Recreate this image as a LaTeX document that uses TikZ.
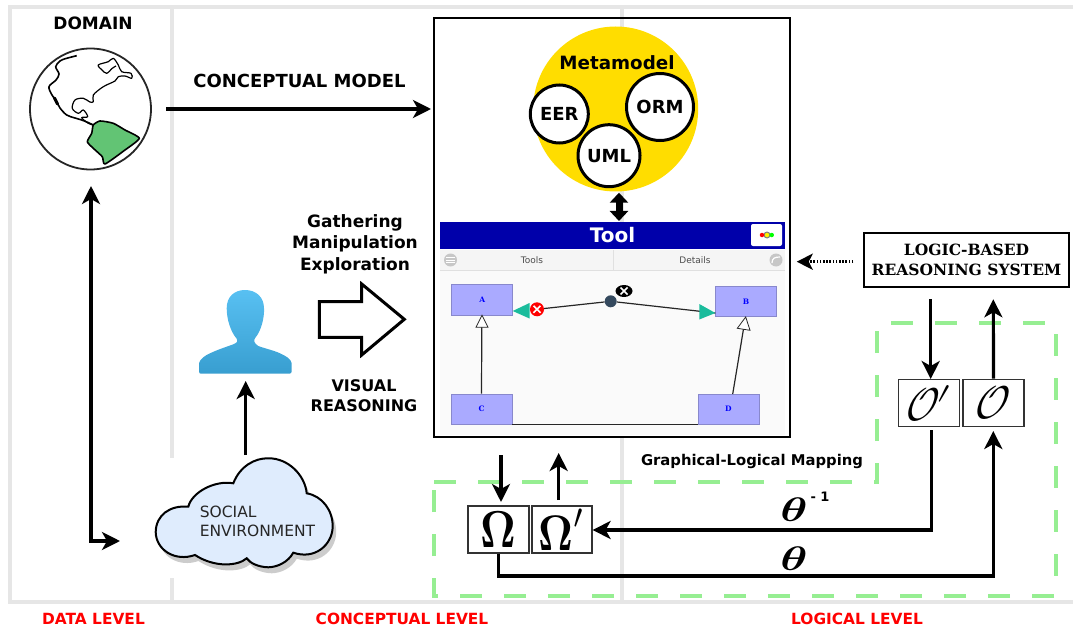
\documentclass[tikz,border=0pt]{standalone}
\usepackage{amsmath}
\usepackage[no-math]{fontspec}
\usepackage{graphicx}
\setmainfont{DejaVu Sans}
\newfontfamily\serifbold{DejaVu Serif}[BoldFont={* Bold}]
\usetikzlibrary{arrows.meta,shapes.geometric,calc}
\definecolor{frameg}{HTML}{E6E6E6}
\definecolor{dashg}{HTML}{96EE92}
\definecolor{metay}{HTML}{FFDD00}
\definecolor{toolb}{HTML}{0000AA}
\definecolor{umlbox}{HTML}{AAAAFF}
\definecolor{teal}{HTML}{1ABC9C}
\definecolor{hubc}{HTML}{34495E}
\definecolor{cloudc}{HTML}{DFECFD}
\definecolor{earth}{HTML}{62C474}
\tikzset{
 frame/.style={frameg,line width=4pt},
 arrowline/.style={line width=3.2pt,-{Stealth[length=18pt,width=18pt,inset=5pt]}},
 label17/.style={font=\fontsize{17}{20}\selectfont\bfseries,inner sep=0pt,align=center},
 levellabel/.style={font=\fontsize{15.4}{18}\selectfont\bfseries,text=red,inner sep=0pt},
 metac/.style={circle,draw=black,line width=3pt,fill=white,inner sep=0pt,font=\fontsize{18}{20}\selectfont\bfseries},
 umlnode/.style={draw=umlbox!80!black,line width=.6pt,fill=umlbox,minimum width=61pt,minimum height=30.5pt,inner sep=0pt,text=blue,font=\fontsize{7.5}{8}\selectfont\serifbold\bfseries},
 glyphbox/.style={draw=black!80,line width=1.2pt,fill=white,minimum width=61pt,minimum height=47pt,inner sep=0pt},
 glyph/.style={inner sep=0pt,xslant=.25,transform shape},
 umlline/.style={line width=1.2pt,black!85},
}
\begin{document}
\begin{tikzpicture}[x=1pt,y=-1pt]
\useasboundingbox (0,0) rectangle (1073,631);
% level frame
\draw[frame] (1073,7.5) -- (9.5,7.5) -- (9.5,602) -- (1073,602);
\draw[frame] (172,7.5) -- (172,458);
\draw[frame] (172,578) -- (172,602);
\draw[frame] (622,7.5) -- (622,602);
% dashed mapping region
\draw[dashg,line width=4pt,dash pattern=on 22pt off 22pt] (434,482) -- (877,482) -- (877,323) -- (1056,323) -- (1056,596) -- (434,596) -- cycle;
% globe
\node[circle,draw=black!85,line width=1.8pt,fill=white,minimum size=121pt,inner sep=0pt] (globe) at (90.5,109) {};
\draw[black,line width=1.6pt,line join=round] plot[smooth,tension=.55] coordinates {
 (76.7,55.7) (66,58.5) (60,61) (55.7,66.7) (59,74) (56,80) (49,86.7) (52,95) (56.7,101.7) (60,108) (66.7,115) (75,118) (81.7,120) (88,122.5) (93.3,125)};
\draw[black,line width=3pt,line cap=round] (54.5,98) -- (57.5,104);
\draw[black,line width=1.2pt,line join=round] plot[smooth,tension=.55] coordinates {
 (93.3,125) (88.3,123.3) (81.7,117.7) (87.7,116.7) (83.3,110) (78.3,113.3) (72.3,108.3) (75,100) (83.3,98.3) (90,102) (93.3,101.7) (93.3,95) (103.3,86.7) (115,81) (118.3,76.7) (125,76) (131.7,78.3) (131,73.3) (121.7,71.7) (118.3,65) (113.3,58.3) (108.3,61.7) (98.3,65) (102,70) (106.7,73.3) (112.3,68.3) (116,66)};
\draw[black,line width=1.6pt,fill=earth,line join=round] plot[smooth cycle,tension=.35] coordinates {
 (93.3,125) (100,121) (113.3,123.3) (125,130) (139.3,138.3) (125,150) (105,164) (102.3,156.7) (93.3,148.3) (87.3,141.7) (91.7,133.3)};
\node[label17] (domain) at (93,23) {DOMAIN};
\node[label17,font=\fontsize{18}{20}\selectfont\bfseries] (concept) at (299.5,81) {CONCEPTUAL MODEL};
\node[label17] (gather) at (355,244) {Gathering\\[1.5pt]Manipulation\\[1.5pt]Exploration};
\node[label17,font=\fontsize{16}{20}\selectfont\bfseries] (visual) at (364,395.5) {VISUAL\\[0pt]REASONING};
% tool frame
\node[draw=black,line width=2pt,minimum width=356pt,minimum height=419pt,inner sep=0pt] (tool) at (612,227.5) {};
% metamodel
\node[circle,fill=metay,minimum size=165pt,inner sep=0pt] (meta) at (615.7,109) {};
\node[font=\fontsize{18.3}{20}\selectfont\bfseries,inner sep=0pt] (metat) at (617,63) {Metamodel};
\node[metac,minimum size=58pt] (eer) at (559.3,114) {EER};
\node[metac,minimum size=67pt] (orm) at (660,107) {ORM};
\node[metac,minimum size=62pt] (uml) at (609,155.7) {UML};
% tool window
\fill[white] (440,222) rectangle (785,436);
\fill[black!2] (440,271) rectangle (785,435);
\fill[black!4] (440,250) rectangle (785,270);
\draw[black!12,line width=.6pt] (440,270.5) -- (785,270.5) (613.6,250) -- (613.6,270);
\node[fill=toolb,minimum width=345pt,minimum height=27pt,inner sep=0pt,text=white,font=\fontsize{20}{22}\selectfont\bfseries] (head) at (612.5,235.5) {Tool};
\node[fill=white,rounded corners=2pt,minimum width=31pt,minimum height=22pt,inner sep=0pt] (btn) at (766.5,235) {};
\node[circle,fill=gray,minimum size=7pt,inner sep=0pt] at (767,235) {};
\node[circle,fill=red,minimum size=4.5pt,inner sep=0pt] (dr) at (762,235) {};
\node[circle,fill=yellow,minimum size=4.5pt,inner sep=0pt] (dy) at (767,235) {};
\node[circle,fill=green,minimum size=4.5pt,inner sep=0pt] (dg) at (771.7,235) {};
\node[circle,fill=black!22,minimum size=13pt,inner sep=0pt] (menu) at (450.5,260) {};
\draw[white,line width=.9pt] (446,257.5) -- (455,257.5) (446,260) -- (455,260) (446,262.5) -- (455,262.5);
\node[circle,fill=black!22,minimum size=13pt,inner sep=0pt] (redo) at (776,260) {};
\draw[white,line width=1.2pt] (772,263) .. controls (772,258) and (775,257) .. (780,257);
\node[font=\fontsize{9}{10}\selectfont,text=black!70,inner sep=0pt] (tools) at (532,260) {Tools};
\node[font=\fontsize{9}{10}\selectfont,text=black!70,inner sep=0pt] (details) at (695,260) {Details};
% UML diagram
\node[umlnode] (A) at (482.2,299.8) {A};
\node[umlnode] (B) at (746,301.5) {B};
\node[umlnode] (C) at (481.5,409.2) {C};
\node[umlnode] (D) at (728.3,409.2) {D};
\node[circle,fill=hubc,minimum size=12pt,inner sep=0pt] (hub) at (610.7,301.3) {};
\node[circle,fill=red,minimum size=14pt,inner sep=0pt] (del) at (537,309.3) {};
\coordinate (atip) at (512.7,311);
\coordinate (btip) at (715.3,313);
\draw[umlline] (del) -- (hub);
\draw[umlline] (hub) -- (btip);
\fill[teal] (atip) -- (529.5,303) -- (529.5,318.5) -- cycle;
\fill[teal] (btip) -- (699.3,304) -- (699.3,319.5) -- cycle;
\draw[white,line width=1.6pt] (533.5,305.8) -- (540.5,312.8) (533.5,312.8) -- (540.5,305.8);
\node[ellipse,fill=black,minimum width=17pt,minimum height=12pt,inner sep=0pt] (bub) at (624,291) {};
\draw[white,line width=1.6pt] (620.5,287.5) -- (627.5,294.5) (620.5,294.5) -- (627.5,287.5);
\draw[umlline] (C.north) -- (481.8,327);
\draw[draw=black!85,fill=white,line width=.8pt] (482,315.3) -- (488,327.3) -- (476,327.3) -- cycle;
\draw[umlline] (732.7,394) -- (743.5,329);
\draw[draw=black!85,fill=white,line width=.8pt] (745.7,317) -- (750,330.3) -- (737.3,328.3) -- cycle;
\draw[umlline] (C.south east) -- (D.south west);
% metamodel to tool
\coordinate (dbl1) at (619,192.7);
\coordinate (dbl2) at (619,221);
\draw[line width=7pt,{Triangle[length=10pt,width=18pt]}-{Triangle[length=10pt,width=18pt]}] (dbl1) -- (dbl2);
% domain arrows
\coordinate (c1) at (166,109);
\coordinate (c2) at (431,109);
\draw[arrowline] (c1) -- (c2);
\coordinate (d1) at (91,186);
\coordinate (d2) at (91,541);
\coordinate (d3) at (120,541);
\draw[arrowline,{Stealth[length=18pt,width=18pt,inset=5pt]}-{Stealth[length=18pt,width=18pt,inset=5pt]},line join=miter] (d1) -- (d2) -- (d3);
% person
\shade[top color={rgb,255:red,88;green,192;blue,242},bottom color={rgb,255:red,56;green,158;blue,208}]
 (245,290) .. controls (256,290) and (264,297) .. (264,308.3) .. controls (264.5,318) and (261,331) .. (255.5,337.5)
 .. controls (253.5,340) and (253.5,343) .. (258.3,346) .. controls (265,348.5) and (274,350.5) .. (280,353.3)
 .. controls (286,356) and (291,359) .. (291.7,363.3) -- (291.7,371) .. controls (291.7,373) and (291,373.7) .. (289.3,373.7)
 -- (201,373.7) .. controls (199.5,373.7) and (199,373) .. (199,371) -- (199,363.3)
 .. controls (200,359) and (205,355.5) .. (210,353.3) .. controls (218,349.5) and (226,347) .. (233.3,344.3)
 .. controls (236.5,343) and (238.5,341.5) .. (236.5,338.5) .. controls (231,332) and (226.7,320) .. (226.7,308.3)
 .. controls (226.7,297) and (234,290) .. (245,290) -- cycle;
\coordinate (p1) at (245.7,381);
\coordinate (p2) at (245.7,455);
\draw[arrowline] (p2) -- (p1);
% big arrow
\draw[line width=3pt,fill=white,miter limit=10] (319.3,301.7) -- (361.7,301.7) -- (361.7,284) -- (404.3,319.3) -- (361.7,355) -- (361.7,337.3) -- (319.3,337.3) -- cycle;
% cloud
\newcommand{\cloudpath}{(188.3,506.7) .. controls (192,492) and (215,480) .. (233.3,483.3)
 .. controls (240,466) and (255,458) .. (268.3,458.3) .. controls (288,458) and (305,475) .. (306.7,493.3)
 .. controls (322,496) and (333,510) .. (332.7,527) .. controls (332,545) and (315,560) .. (293.3,552.7)
 .. controls (288,562) and (278,567) .. (268.3,567.3) .. controls (258,567) and (250,563) .. (246.7,558.3)
 .. controls (238,566) and (215,568) .. (195,555) .. controls (175,562) and (156,550) .. (155.7,532)
 .. controls (156,515) and (170,505) .. (188.3,506.7) -- cycle}
\fill[black!20,shift={(3.5,6)}] \cloudpath;
\draw[black,line width=2pt,fill=cloudc] \cloudpath;
\node[font=\fontsize{15.5}{19}\selectfont,align=left,inner sep=0pt,text=black!85] (social) at (257.5,521.5) {SOCIAL\\ENVIRONMENT};
% logic system
\node[draw=black,line width=2pt,fill=white,minimum width=204.4pt,minimum height=53.7pt,inner sep=0pt,align=center,font=\fontsize{15.5}{20}\selectfont\serifbold\bfseries] (logic) at (966.5,260.2) {LOGIC-BASED\\REASONING SYSTEM};
\coordinate (lo1) at (853.3,261.7);
\coordinate (lo2) at (796.7,261.7);
\draw[line width=3pt,dash pattern=on 1.6pt off 1.6pt,-{Stealth[length=16pt,width=16pt,inset=4pt]}] (lo1) -- (lo2);
% glyph boxes
\node[glyphbox] (omega) at (498.5,529.5) {\scalebox{4.3}[5.2]{$\boldsymbol{\Omega}$}};
\node[glyphbox,minimum width=60pt] (omegap) at (562,529.5) {\scalebox{4.2}[5.0]{$\boldsymbol{\Omega}'$}};
\node[glyphbox] (op) at (928.8,402.8) {};
\node[glyphbox] (o) at (993.5,402.8) {};
\node[glyph] (opg) at (928.3,402.8) {\scalebox{3.6}[4.6]{$\mathcal{O}'$}};
\node[glyph] (og) at (993.5,402.8) {\scalebox{3.8}[4.6]{$\mathcal{O}$}};
\coordinate (l1) at (930.7,299);
\coordinate (l2) at (930.7,379);
\draw[arrowline] (l1) -- (l2);
\coordinate (l3) at (993.3,299.3);
\draw[arrowline] (o.north) -- (l3);
\coordinate (w1) at (501,455);
\coordinate (w2) at (501,502);
\draw[arrowline] (w1) -- (w2);
\coordinate (w3) at (558.7,500);
\coordinate (w4) at (558.7,453);
\draw[arrowline] (w3) -- (w4);
\coordinate (t1) at (931.7,430);
\coordinate (t2) at (931.7,530);
\draw[arrowline,line join=miter] (t1) -- (t2) -- (omegap.east |- t2);
\coordinate (s2) at (498.5,576);
\coordinate (s3) at (993.3,576);
\coordinate (s4) at (993.3,431);
\draw[arrowline,line join=miter] (omega.south) -- (s2) -- (s3) -- (s4);
\node[inner sep=0pt] (theta1) at (794,510) {\scalebox{4.6}[3.4]{$\boldsymbol{\theta}$}};
\node[inner sep=0pt] (theta2) at (794,559) {\scalebox{4.6}[3.4]{$\boldsymbol{\theta}$}};
\node[font=\fontsize{13}{14}\selectfont\bfseries,inner sep=0pt] (minus) at (820,497) {- 1};
\node[font=\fontsize{14.8}{17}\selectfont\bfseries,inner sep=0pt] (map) at (752,461.5) {Graphical-Logical Mapping};
% levels
\node[levellabel] (l-data) at (93.5,619) {DATA LEVEL};
\node[levellabel] (l-conc) at (402,619) {CONCEPTUAL LEVEL};
\node[levellabel] (l-log) at (857,619) {LOGICAL LEVEL};
\end{tikzpicture}
\end{document}
